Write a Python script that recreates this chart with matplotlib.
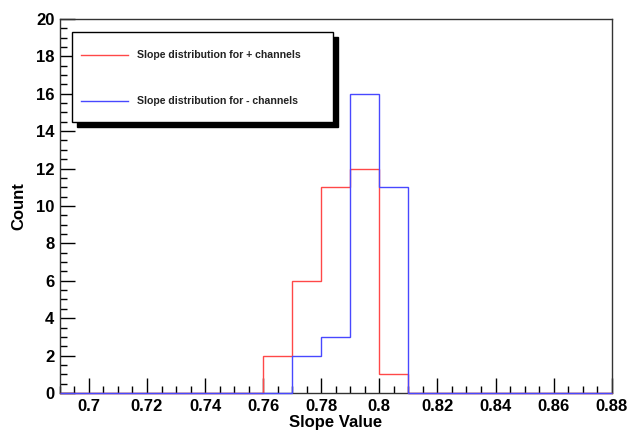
import numpy as np
import matplotlib
matplotlib.use("Agg")
import matplotlib.pyplot as plt
from matplotlib.patches import Rectangle
from matplotlib.ticker import MultipleLocator

plt.rcParams['font.family'] = ['Liberation Sans Narrow', 'Liberation Sans', 'DejaVu Sans']
plt.rcParams['font.weight'] = 'bold'

# histogram bins (width 0.01) from 0.69 to 0.88
bin_edges = np.round(np.arange(0.69, 0.8801, 0.01), 3)
bin_lo = [0.76, 0.77, 0.78, 0.79, 0.80]
plus_counts = [2, 6, 11, 12, 1]
minus_counts = [0, 2, 3, 16, 11]

def fill(lo, counts):
    h = np.zeros(len(bin_edges) - 1)
    for x, c in zip(lo, counts):
        i = int(round((x - 0.69) / 0.01))
        h[i] = c
    return h

h_plus = fill(bin_lo, plus_counts)
h_minus = fill(bin_lo, minus_counts)

fig = plt.figure(figsize=(6.3, 4.32), dpi=100)
ax = fig.add_axes([0.095, 0.0903, 0.876, 0.866])

for s in ax.spines.values():
    s.set_linewidth(1.0)
    s.set_color('#333333')

ax.stairs(h_plus, bin_edges, color='#ff4848', lw=1.0, baseline=None, clip_on=False, zorder=3)
ax.stairs(h_minus, bin_edges, color='#4848ff', lw=1.0, baseline=None, clip_on=False, zorder=4)

ax.set_xlim(0.69, 0.88)
ax.set_ylim(0, 20)
ax.xaxis.set_major_locator(MultipleLocator(0.02))
ax.xaxis.set_minor_locator(MultipleLocator(0.005))
ax.yaxis.set_major_locator(MultipleLocator(2))
ax.yaxis.set_minor_locator(MultipleLocator(0.5))
ax.xaxis.set_major_formatter(plt.FuncFormatter(lambda v, p: ('%g' % round(v, 3))))
ax.tick_params(direction='in', which='major', length=11, width=1, labelsize=12, pad=4)
ax.tick_params(direction='in', which='minor', length=5, width=1)
ax.tick_params(top=False, right=False, which='both')

ax.set_xlabel('Slope Value', fontsize=12, fontweight='bold', labelpad=1)
ax.set_ylabel('Count', fontsize=12, fontweight='bold', labelpad=7)

# legend box with shadow (ROOT style)
def fx(px):
    return px / 630.0
def fy(py):
    return 1 - py / 432.0

shadow = Rectangle((fx(77), fy(127)), fx(333) - fx(72), fy(32) - fy(122),
                   transform=fig.transFigure, facecolor='black', edgecolor='black', zorder=5)
box = Rectangle((fx(72), fy(122)), fx(333) - fx(72), fy(32) - fy(122),
                transform=fig.transFigure, facecolor='white', edgecolor='black', lw=1.0, zorder=6)
fig.patches.extend([shadow, box])

labels = ['Slope distribution for + channels', 'Slope distribution for - channels']
colors = ['#ff4848', '#4848ff']
ys = [55, 101]
for lab, col, yy in zip(labels, colors, ys):
    fig.lines.append(plt.Line2D([fx(81), fx(128)], [fy(yy), fy(yy)], color=col, lw=1.0,
                                transform=fig.transFigure, zorder=7))
    fig.text(fx(137), fy(yy), lab, fontsize=7.6, fontweight='bold', va='center', ha='left',
             color='#222222', zorder=7)

fig.savefig('out.png', dpi=100)
